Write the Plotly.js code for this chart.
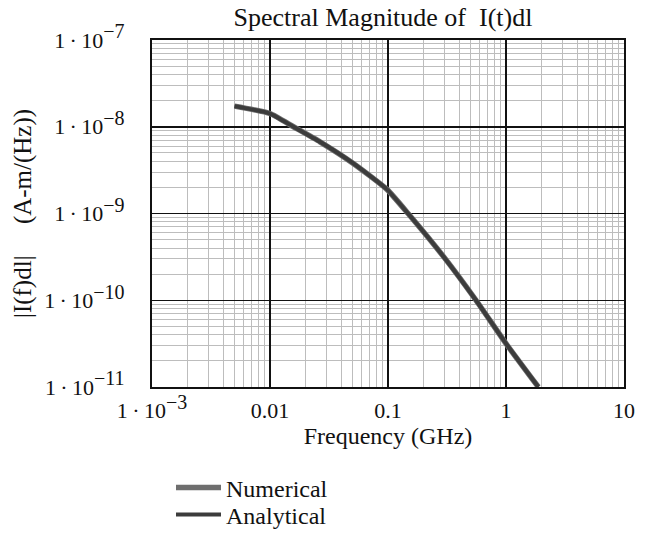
<!DOCTYPE html>
<html>
<head>
<meta charset="utf-8">
<script src="https://cdn.plot.ly/plotly-3.0.1.min.js"></script>
<style>html,body{margin:0;padding:0;background:#fff;}#chart{width:654px;height:533px;}</style>
</head>
<body>
<div id="chart"></div>
<script>
// Frequency (GHz) and spectral magnitude |I(f)dl| (A-m/(Hz))
const freqGHz = [0.005, 0.01, 0.0158, 0.0265, 0.0508, 0.0975, 0.148, 0.297, 0.557, 1.01, 1.88];
const analytical = [1.73e-8, 1.42e-8, 1.0e-8, 6.71e-9, 3.78e-9, 1.91e-9, 1.0e-9, 3.16e-10, 1.0e-10, 3.11e-11, 1.0e-11];
const numerical = [1.73e-8, 1.42e-8, 1.0e-8, 6.71e-9, 3.78e-9, 1.91e-9, 1.0e-9, 3.16e-10, 1.0e-10, 3.11e-11, 1.0e-11];

const sup = s => '<sup><span style="font-size:20px">' + s + '</span></sup>';
const xTickVals = [0.001, 0.01, 0.1, 1, 10];
const xTickText = ['1\u2009·\u200910' + sup('−3'), '0.01', '0.1', '1', '10'];
const yTickVals = [1e-11, 1e-10, 1e-9, 1e-8, 1e-7];
const yTickText = ['1\u2009·\u200910' + sup('−11'), '1\u2009·\u200910' + sup('−10'), '1\u2009·\u200910' + sup('−9'), '1\u2009·\u200910' + sup('−8'), '1\u2009·\u200910' + sup('−7')];

const serif = '"Liberation Serif", "Times New Roman", serif';

const traces = [
  {x: freqGHz, y: numerical, name: 'Numerical', mode: 'lines', type: 'scatter', legend: 'legend',
   line: {color: '#6e6e6e', width: 5.5, shape: 'spline', smoothing: 0.5}},
  {x: freqGHz, y: analytical, name: 'Analytical', mode: 'lines', type: 'scatter', legend: 'legend2',
   line: {color: '#3c3c3c', width: 4, shape: 'spline', smoothing: 0.5}}
];

const axisCommon = {
  type: 'log', showline: true, linecolor: '#111', linewidth: 2, mirror: true,
  showgrid: true, gridcolor: '#111', gridwidth: 1.5, ticks: '', zeroline: false,
  tickmode: 'array', tickfont: {family: serif, size: 22, color: '#111'},
  minor: {dtick: 'D1', showgrid: true, gridcolor: '#bdbdbd', gridwidth: 1, ticks: ''}
};

const legendCommon = {x: (171-152)/472, xanchor: 'left', yanchor: 'middle',
  itemwidth: 45, font: {family: serif, size: 24, color: '#111'}, bgcolor: 'rgba(0,0,0,0)'};

const layout = {
  width: 654, height: 533,
  margin: {l: 152, r: 30, t: 40, b: 146, autoexpand: false},
  paper_bgcolor: '#fff', plot_bgcolor: '#fff',
  font: {family: serif, color: '#111'},
  title: {text: 'Spectral Magnitude of \u00a0I(t)dl', font: {family: serif, size: 26, color: '#111'},
          x: (383-152)/472, xref: 'paper', xanchor: 'center', y: 1 - 17/533, yref: 'container', yanchor: 'middle'},
  xaxis: Object.assign({}, axisCommon, {
    range: [-3, 1], tickvals: xTickVals, ticktext: xTickText, ticklabelstandoff: 3,
    title: {text: 'Frequency (GHz)', font: {family: serif, size: 24, color: '#111'}, standoff: 4}
  }),
  yaxis: Object.assign({}, axisCommon, {
    range: [-11, -7], tickvals: yTickVals, ticktext: yTickText, ticklabelstandoff: 21,
    title: {text: '\u00a0\u00a0\u00a0|I(f)dl| \u00a0\u00a0\u00a0\u00a0(A-m/(Hz))', font: {family: serif, size: 25, color: '#111'}, standoff: 5}
  }),
  showlegend: true,
  legend: Object.assign({}, legendCommon, {y: (387-488)/347}),
  legend2: Object.assign({}, legendCommon, {y: (387-515)/347})
};

Plotly.newPlot('chart', traces, layout, {staticPlot: true, displayModeBar: false});
</script>
</body>
</html>
